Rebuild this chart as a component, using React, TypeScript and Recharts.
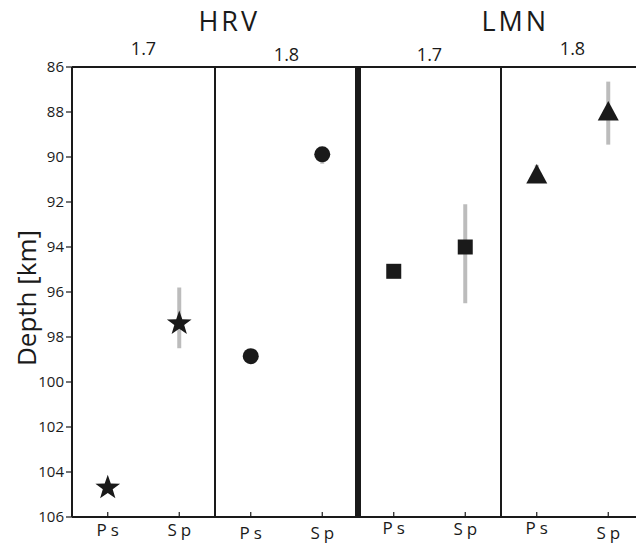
import React from "react";
import { ScatterChart, Scatter, XAxis, YAxis, ErrorBar, ReferenceLine } from "recharts";

const stations = ["HRV", "LMN"];
const models = ["1.7", "1.8"];
const phases = ["Ps", "Sp"];
const depthTicks = [86, 88, 90, 92, 94, 96, 98, 100, 102, 104, 106];

// depth of each phase [Ps, Sp], plus low/high end of the gray bar
const hrv17Depth = [104.7, 97.4];
const hrv17Low = [104.7, 95.8];
const hrv17High = [104.7, 98.5];

const hrv18Depth = [98.85, 89.88];
const hrv18Low = [98.85, 89.6];
const hrv18High = [98.85, 90.3];

const lmn17Depth = [95.08, 94.0];
const lmn17Low = [95.08, 92.1];
const lmn17High = [95.08, 96.5];

const lmn18Depth = [90.8, 88.0];
const lmn18Low = [90.35, 86.65];
const lmn18High = [90.9, 89.45];

const FONT = "'Open Sans', 'DejaVu Sans', sans-serif";
const INK = "#1a1a1a";

type Shape = "star" | "circle" | "square" | "triangle";

const groups: Array<{ depth: number[]; low: number[]; high: number[]; shape: Shape }> = [
  { depth: hrv17Depth, low: hrv17Low, high: hrv17High, shape: "star" },
  { depth: hrv18Depth, low: hrv18Low, high: hrv18High, shape: "circle" },
  { depth: lmn17Depth, low: lmn17Low, high: lmn17High, shape: "square" },
  { depth: lmn18Depth, low: lmn18Low, high: lmn18High, shape: "triangle" },
];

const groupData = groups.map((g, gi) =>
  phases.map((p, pi) => ({
    x: gi * phases.length + pi + 0.5,
    depth: g.depth[pi],
    err: [g.depth[pi] - g.low[pi], g.high[pi] - g.depth[pi]],
  }))
);

const bottomTicks = groups.flatMap((_, gi) => phases.map((_, pi) => gi * phases.length + pi + 0.5));
const groupCenters = groups.map((_, gi) => gi * phases.length + phases.length / 2);
const stationCenters = stations.map((_, si) => si * models.length * phases.length + 2.2);
const separators = [2, 4, 6];

// the original figure is cropped on the right: the last panel runs past the edge
const PLOT_W = 588;
const X_MAX = (8 * PLOT_W) / 572;

function starPath(cx: number, cy: number, R: number, r: number) {
  const pts: string[] = [];
  for (let i = 0; i < 10; i++) {
    const rad = i % 2 === 0 ? R : r;
    const a = -Math.PI / 2 + (i * Math.PI) / 5;
    pts.push(`${cx + rad * Math.cos(a)},${cy + rad * Math.sin(a)}`);
  }
  return `M${pts.join("L")}Z`;
}

const makeMarker = (shape: Shape) => (props: any) => {
  const { cx, cy } = props;
  if (cx == null || cy == null) return <g />;
  if (shape === "star") return <path d={starPath(cx, cy, 13, 5.2)} fill={INK} />;
  if (shape === "circle") return <circle cx={cx} cy={cy} r={8} fill={INK} />;
  if (shape === "square") return <rect x={cx - 7.5} y={cy - 7.5} width={15} height={15} fill={INK} />;
  return <path d={`M${cx},${cy - 11}L${cx + 10.5},${cy + 8.5}L${cx - 10.5},${cy + 8.5}Z`} fill={INK} />;
};

const phaseNudge = [0, 0, 3, 3, -2, -1, -2, 3];

const PhaseTick = (props: any) => {
  const { x, y, index } = props;
  return (
    <g>
      <line x1={x} x2={x} y1={y} y2={y - 5} stroke={INK} strokeWidth={1.2} />
      <text x={x + 2} y={y + 19 + phaseNudge[index]} textAnchor="middle" fontSize={17} letterSpacing={4} fill={INK} fontFamily={FONT}>
        {phases[index % phases.length]}
      </text>
    </g>
  );
};

const modelOffset = [12, 6, 6, 12];

const DepthLabel = (props: any) => {
  const vb = props.viewBox || {};
  const x = (vb.x || 0) + 26;
  const y = (vb.y || 0) + (vb.height || 0) / 2 + 6;
  return (
    <text x={x} y={y} transform={`rotate(-90, ${x}, ${y})`} textAnchor="middle" dominantBaseline="central" fontSize={26} fill={INK} fontFamily={FONT}>
      Depth [km]
    </text>
  );
};

export default function App() {
  return (
    <div style={{ position: "absolute", left: 0, top: 0, width: 636, height: 546, background: "#fff" }}>
      <ScatterChart width={636} height={546} margin={{ top: 67, right: 636 - 72 - PLOT_W, bottom: 0, left: 0 }}>
        <XAxis
          dataKey="x"
          type="number"
          domain={[0, X_MAX]}
          ticks={bottomTicks}
          interval={0}
          tick={<PhaseTick />}
          tickSize={0}
          tickMargin={0}
          tickLine={false}
          height={29}
          axisLine={{ stroke: INK, strokeWidth: 2 }}
          allowDataOverflow
        />
        <YAxis
          dataKey="depth"
          type="number"
          reversed
          domain={[86, 106]}
          ticks={depthTicks}
          interval={0}
          width={72}
          tickSize={6}
          tickMargin={2}
          tick={{ fontSize: 15, fill: INK, fontFamily: FONT }}
          tickLine={{ stroke: INK, strokeWidth: 1.2 }}
          axisLine={{ stroke: INK, strokeWidth: 2 }}
          label={<DepthLabel />}
          allowDataOverflow
        />
        <ReferenceLine y={86} stroke={INK} strokeWidth={2} />
        {separators.map((s) => (
          <ReferenceLine key={s} x={s} stroke={INK} strokeWidth={s === 4 ? 6 : 2} />
        ))}
        {groupCenters.map((c, gi) => (
          <ReferenceLine
            key={`m${gi}`}
            x={c}
            stroke="none"
            label={{ value: models[gi % models.length], position: "top", offset: modelOffset[gi], fontSize: 18, fill: INK, fontFamily: FONT }}
          />
        ))}
        {stationCenters.map((c, si) => (
          <ReferenceLine
            key={`s${si}`}
            x={c}
            stroke="none"
            label={{ value: stations[si], position: "top", offset: 36, fontSize: 27, letterSpacing: 3, fill: INK, fontFamily: FONT }}
          />
        ))}
        {groups.map((g, gi) => (
          <Scatter key={gi} data={groupData[gi]} shape={makeMarker(g.shape)} isAnimationActive={false}>
            <ErrorBar dataKey="err" direction="y" width={0} stroke="#bcbcbc" strokeWidth={4} isAnimationActive={false} />
          </Scatter>
        ))}
      </ScatterChart>
    </div>
  );
}
